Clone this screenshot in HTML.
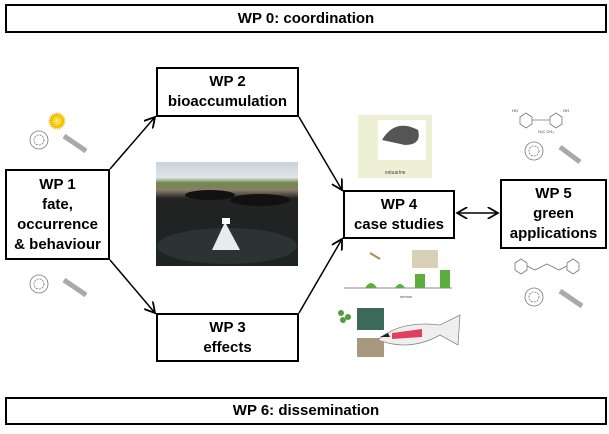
<!DOCTYPE html>
<html><head><meta charset="utf-8"><style>
body{margin:0;width:609px;height:434px;background:#fff;position:relative;overflow:hidden;font-family:"Liberation Sans",sans-serif;font-weight:bold;}
.b{position:absolute;border:2px solid #000;box-sizing:border-box;display:flex;align-items:center;justify-content:center;text-align:center;font-size:15px;line-height:20px;color:#000;background:#fff;}
</style></head><body>
<div class="b" style="left:5px;top:4px;width:602px;height:29px">WP 0: coordination</div>
<div class="b" style="left:5px;top:397px;width:602px;height:28px">WP 6: dissemination</div>
<div class="b" style="left:156px;top:67px;width:143px;height:50px">WP 2<br>bioaccumulation</div>
<div class="b" style="left:5px;top:169px;width:105px;height:91px">WP 1<br>fate,<br>occurrence<br>&amp; behaviour</div>
<div class="b" style="left:156px;top:313px;width:143px;height:49px">WP 3<br>effects</div>
<div class="b" style="left:343px;top:190px;width:112px;height:49px">WP 4<br>case studies</div>
<div class="b" style="left:500px;top:179px;width:107px;height:70px">WP 5<br>green<br>applications</div>
<svg width="609" height="434" style="position:absolute;left:0;top:0" xmlns="http://www.w3.org/2000/svg">
<defs><marker id="a" markerWidth="8" markerHeight="8" refX="7" refY="4" orient="auto-start-reverse"><path d="M0,0 L7,4 L0,8" fill="none" stroke="#000" stroke-width="1.2"/></marker>
<radialGradient id="s"><stop offset="0" stop-color="#fff36a"/><stop offset="1" stop-color="#f0b400"/></radialGradient>
<linearGradient id="ph" x1="0" y1="0" x2="0" y2="1"><stop offset="0" stop-color="#c9d3dc"/><stop offset="0.15" stop-color="#dfe4e8"/><stop offset="0.2" stop-color="#6f8a4a"/><stop offset="0.27" stop-color="#8b7d68"/><stop offset="0.35" stop-color="#222"/><stop offset="1" stop-color="#1e2424"/></linearGradient></defs>
<g stroke="#000" stroke-width="1.5" fill="none">
<line x1="110" y1="169" x2="155" y2="117" marker-end="url(#a)"/>
<line x1="299" y1="117" x2="342" y2="190" marker-end="url(#a)"/>
<line x1="110" y1="260" x2="155" y2="313" marker-end="url(#a)"/>
<line x1="299" y1="313" x2="342" y2="239" marker-end="url(#a)"/>
<line x1="457" y1="213" x2="498" y2="213" marker-start="url(#a)" marker-end="url(#a)"/>
</g>
<!-- photo -->
<rect x="156" y="162" width="142" height="104" fill="url(#ph)"/>
<ellipse cx="227" cy="246" rx="70" ry="18" fill="#2b3432"/>
<path d="M225 222 L212 250 L240 250 Z" fill="#e8ecef"/>
<rect x="222" y="218" width="8" height="6" fill="#fff"/>
<ellipse cx="210" cy="195" rx="25" ry="5" fill="#111"/><ellipse cx="260" cy="200" rx="30" ry="6" fill="#111"/>
<!-- left icons -->
<circle cx="57" cy="121" r="7" fill="url(#s)" stroke="#f0c000" stroke-dasharray="1 1" stroke-width="3"/>
<g fill="none" stroke="#777" stroke-width="0.8">
<circle cx="39" cy="140" r="9"/><circle cx="39" cy="140" r="5" stroke-dasharray="2 1"/>
<line x1="64" y1="136" x2="86" y2="151" stroke-width="5" stroke="#aaa"/>
<circle cx="39" cy="284" r="9"/><circle cx="39" cy="284" r="5" stroke-dasharray="2 1"/>
<line x1="64" y1="280" x2="86" y2="295" stroke-width="5" stroke="#aaa"/>
<circle cx="534" cy="151" r="9"/><circle cx="534" cy="151" r="5" stroke-dasharray="2 1"/>
<line x1="560" y1="147" x2="580" y2="162" stroke-width="5" stroke="#aaa"/>
<circle cx="534" cy="297" r="9"/><circle cx="534" cy="297" r="5" stroke-dasharray="2 1"/>
<line x1="560" y1="291" x2="582" y2="306" stroke-width="5" stroke="#aaa"/>
<polygon points="520,117 526,113 532,117 532,124 526,128 520,124"/>
<polygon points="550,117 556,113 562,117 562,124 556,128 550,124"/>
<line x1="532" y1="120" x2="550" y2="120"/>
<polygon points="515,263 521,259 527,263 527,270 521,274 515,270"/>
<polygon points="567,263 573,259 579,263 579,270 573,274 567,270"/>
<path d="M527 266 L535 270 L547 264 L559 270 L567 266"/>
</g>
<g font-family="Liberation Sans" font-size="4" font-weight="normal" fill="#333"><text x="512" y="112">HO</text><text x="563" y="112">OH</text><text x="538" y="133">H₃C CH₃</text></g>
<!-- estuarine -->
<rect x="358" y="115" width="74" height="63" fill="#eef0d6"/>
<rect x="378" y="120" width="48" height="40" fill="#fff"/>
<path d="M382 140 Q395 118 418 130 Q422 145 405 145 Z" fill="#555"/>
<text x="385" y="174" font-size="5" font-weight="normal" fill="#444">estuarine</text>
<!-- stream -->
<line x1="344" y1="288" x2="452" y2="288" stroke="#888"/>
<rect x="412" y="250" width="26" height="18" fill="#d8d0b8"/>
<path d="M365 288 q6-10 12 0 M395 288 q5-8 10 0 M415 288 v-14 h10 v14 M440 288 v-18 h10 v18" fill="#5cad3e"/>
<path d="M370 253 l10 6" stroke="#b0875a" stroke-width="2"/>
<text x="400" y="298" font-size="4" font-weight="normal" fill="#555">stream</text>
<!-- fish cluster -->
<circle cx="341" cy="313" r="3" fill="#5a9a40"/><circle cx="348" cy="317" r="3" fill="#5a9a40"/><circle cx="343" cy="320" r="3" fill="#5a9a40"/>
<rect x="357" y="308" width="27" height="22" fill="#3c6a5a"/>
<rect x="357" y="338" width="27" height="19" fill="#a89880"/>
<path d="M378 340 Q400 320 440 325 L460 315 L458 345 L440 335 Q410 352 378 340 Z" fill="#eee" stroke="#888" stroke-width="0.8"/>
<path d="M392 333 l30 -4 l0 8 l-30 2 z" fill="#e04060"/>
<path d="M380 337 l8 -4 l2 4 z" fill="#222"/>
</svg>
</body></html>
